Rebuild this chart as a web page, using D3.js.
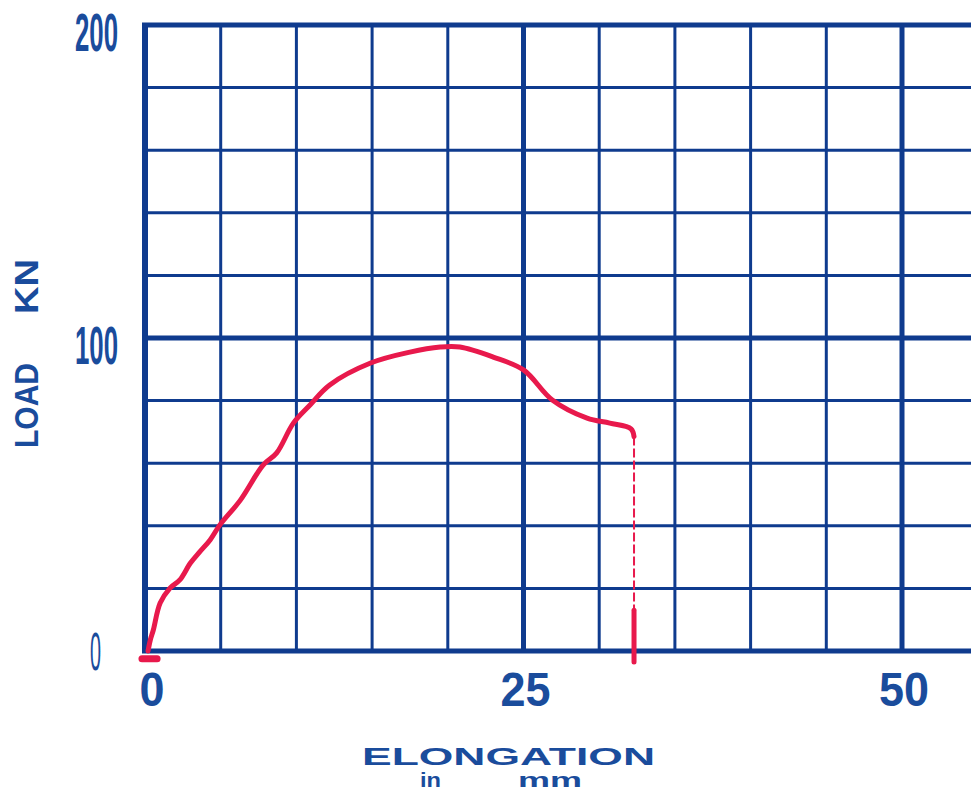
<!DOCTYPE html>
<meta charset="utf-8">
<title>load elongation</title>
<style>
    body { margin: 0; background: #fff; }
    text { font-family: "Liberation Sans", Arial, sans-serif; fill: #1a4c9c; }
</style>
<body>
<div id="chart"></div>
<script src="https://d3js.org/d3.v7.min.js"></script>
<script>
    var width = 971;
    var height = 792;

    // grid lines (mm and kN)
    var gridX = [0, 5, 10, 15, 20, 25, 30, 35, 40, 45, 50];
    var gridY = [0, 20, 40, 60, 80, 100, 120, 140, 160, 180, 200];
    var majorX = [0, 25, 50];
    var majorY = [0, 100, 200];
    var xTickLabels = ["0", "25", "50"];
    var yTickLabels = ["0", "100", "200"];

    // load curve
    var elong = [0.2, 0.35, 0.55, 1.0, 1.65, 2.3, 3.0, 3.6, 4.3, 4.95, 6.3, 7.8, 8.7, 9.8, 10.9, 12.2, 14.9, 17.5, 19.5, 20.8, 23.0, 25.0, 26.9, 29.2, 30.7, 32.1];
    var load  = [0, 3.5, 6.7, 15.3, 20.1, 22.7, 28.1, 31.6, 35.5, 40.3, 48.2, 59.4, 63.3, 72.8, 78.6, 85.0, 92.0, 95.5, 97.1, 97.1, 93.9, 89.8, 80.2, 74.4, 72.8, 71.0];
    var breakX = 32.3;
    var breakTop = 68.5;
    var breakBottom = [13, -3.5];

    var x = d3.scaleLinear().domain([0, 50]).range([145, 902]);
    var y = d3.scaleLinear().domain([0, 200]).range([651, 25]);

    var gridColor = "#0f3b8e";
    var red = "#e8194c";

    var svg = d3.select("#chart").append("svg")
        .attr("width", width)
        .attr("height", height);

    // grid
    var grid = svg.append("g").attr("class", "grid");
    grid.selectAll("line.v")
        .data(gridX)
        .enter().append("line")
        .attr("class", "v")
        .attr("x1", d => x(d)).attr("x2", d => x(d))
        .attr("y1", y(200) - 2).attr("y2", y(0) + 2)
        .style("stroke", gridColor)
        .style("stroke-width", d => majorX.indexOf(d) >= 0 ? (d == 0 ? 6 : 5) : 3);

    grid.selectAll("line.h")
        .data(gridY)
        .enter().append("line")
        .attr("class", "h")
        .attr("x1", x(0) - 3).attr("x2", width)
        .attr("y1", d => y(d)).attr("y2", d => y(d))
        .style("stroke", gridColor)
        .style("stroke-width", d => majorY.indexOf(d) >= 0 ? 5 : 3);

    // y tick labels
    svg.append("g").selectAll("text")
        .data(yTickLabels)
        .enter().append("text")
        .attr("x", 118)
        .attr("y", d => y(+d) + (d == "0" ? 19 : 26))
        .attr("text-anchor", "end")
        .style("font-size", "54px")
        .style("font-weight", d => d == "0" ? "normal" : "bold")
        .attr("textLength", d => d == "0" ? 11 : 43)
        .attr("lengthAdjust", "spacingAndGlyphs")
        .attr("dx", d => d == "0" ? -17 : 0)
        .text(d => d);

    // x tick labels
    svg.append("g").selectAll("text")
        .data(xTickLabels)
        .enter().append("text")
        .attr("x", d => x(+d) + (d == "0" ? 7 : 2))
        .attr("y", 706)
        .attr("text-anchor", "middle")
        .style("font-size", "49px")
        .style("font-weight", "bold")
        .attr("textLength", d => d.length * 25)
        .attr("lengthAdjust", "spacingAndGlyphs")
        .text(d => d);

    // axis titles
    svg.append("text")
        .attr("transform", "translate(38,448) rotate(-90)")
        .style("font-size", "34px")
        .style("font-weight", "bold")
        .attr("textLength", 85)
        .attr("lengthAdjust", "spacingAndGlyphs")
        .text("LOAD");
    svg.append("text")
        .attr("transform", "translate(38,314) rotate(-90)")
        .style("font-size", "34px")
        .style("font-weight", "bold")
        .attr("textLength", 55)
        .attr("lengthAdjust", "spacingAndGlyphs")
        .text("KN");

    svg.append("text")
        .attr("x", 362).attr("y", 765)
        .style("font-size", "24px")
        .style("font-weight", "bold")
        .attr("textLength", 293)
        .attr("lengthAdjust", "spacingAndGlyphs")
        .text("ELONGATION");
    svg.append("text")
        .attr("x", 420).attr("y", 787)
        .style("font-size", "20px")
        .style("font-weight", "bold")
        .attr("textLength", 21)
        .attr("lengthAdjust", "spacingAndGlyphs")
        .text("in");
    svg.append("text")
        .attr("x", 518).attr("y", 787)
        .style("font-size", "20px")
        .style("font-weight", "bold")
        .attr("textLength", 64)
        .attr("lengthAdjust", "spacingAndGlyphs")
        .text("mm");

    // load curve
    var pts = elong.map((e, i) => [e, load[i]]);
    var line = d3.line()
        .x(d => x(d[0]))
        .y(d => y(d[1]))
        .curve(d3.curveCatmullRom.alpha(0.5));

    svg.append("path")
        .datum(pts.concat([[breakX, breakTop]]))
        .attr("d", line)
        .style("fill", "none")
        .style("stroke", red)
        .style("stroke-width", 5)
        .style("stroke-linejoin", "round")
        .style("stroke-linecap", "round");

    // fracture drop
    svg.append("line")
        .attr("x1", x(breakX)).attr("x2", x(breakX))
        .attr("y1", y(breakTop)).attr("y2", y(breakBottom[0]))
        .style("stroke", red)
        .style("stroke-width", 2)
        .style("stroke-dasharray", "9,3");
    svg.append("line")
        .attr("x1", x(breakX)).attr("x2", x(breakX))
        .attr("y1", y(breakBottom[0])).attr("y2", y(breakBottom[1]))
        .style("stroke", red)
        .style("stroke-width", 5)
        .style("stroke-linecap", "round");

    // pen blot at origin
    svg.append("line")
        .attr("x1", x(-0.2)).attr("x2", x(0.8))
        .attr("y1", y(-2.5)).attr("y2", y(-2.5))
        .style("stroke", red)
        .style("stroke-width", 7)
        .style("stroke-linecap", "round");
</script>
</body>
